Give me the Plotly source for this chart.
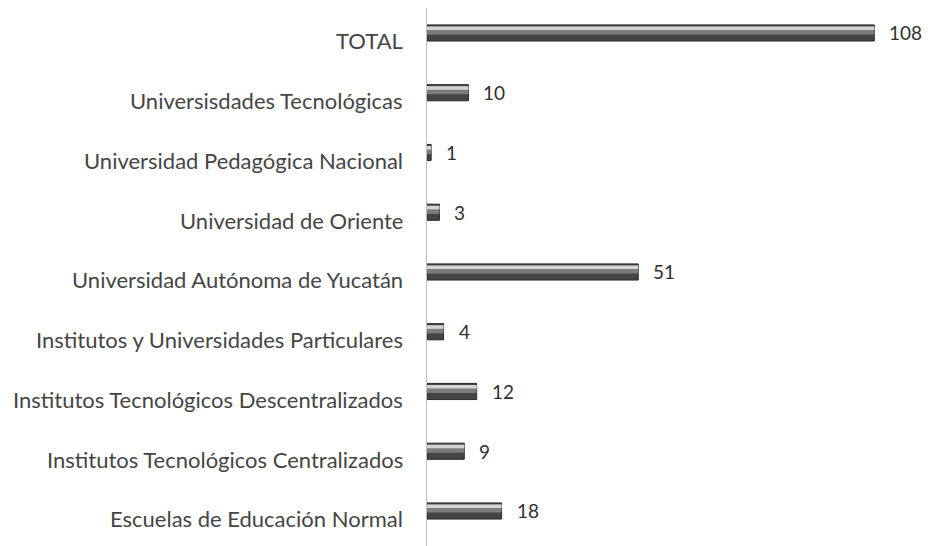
import plotly.graph_objects as go

categories = [
    "Escuelas de Educación Normal",
    "Institutos Tecnológicos Centralizados",
    "Institutos Tecnológicos Descentralizados",
    "Institutos y Universidades Particulares",
    "Universidad Autónoma de Yucatán",
    "Universidad de Oriente",
    "Universidad Pedagógica Nacional",
    "Universisdades Tecnológicas",
    "TOTAL",
]
values = [18, 9, 12, 4, 51, 3, 1, 10, 108]

FONT = "Lato"
W = 0.27

fig = go.Figure()
# base (dark) bar
fig.add_trace(go.Bar(
    y=categories, x=values, orientation="h", width=W, offset=-W / 2,
    marker=dict(color="#444444", line=dict(color="#2a2a2a", width=1)),
    hoverinfo="skip",
))
# mid tone band
fig.add_trace(go.Bar(
    y=categories, x=values, orientation="h", width=W * 0.5, offset=W / 2 - W * 0.6,
    marker=dict(color="#7c7c7c", line=dict(width=0)), hoverinfo="skip",
))
# light highlight band at top
fig.add_trace(go.Bar(
    y=categories, x=values, orientation="h", width=W * 0.22, offset=W / 2 - W * 0.32,
    marker=dict(color="#d4d4d4", line=dict(width=0)), hoverinfo="skip",
))

for c, v in zip(categories, values):
    fig.add_annotation(
        x=0, xref="paper", y=c, yref="y", text=c, showarrow=False,
        xanchor="right", xshift=-22, yshift=-8,
        font=dict(family=FONT, size=22, color="#454545"),
    )
    fig.add_annotation(
        x=v, xref="x", y=c, yref="y", text=str(v), showarrow=False,
        xanchor="left", xshift=13, yshift=0,
        font=dict(family=FONT, size=19, color="#303030"),
    )

fig.update_layout(
    width=922, height=538,
    margin=dict(l=419, r=6, t=0, b=0, autoexpand=False),
    barmode="overlay",
    showlegend=False,
    plot_bgcolor="white", paper_bgcolor="white",
    xaxis=dict(range=[0, 120], visible=False, showgrid=False, zeroline=False),
    yaxis=dict(showticklabels=False, ticks="", showgrid=False, zeroline=False,
               showline=True, linecolor="#bfbfbf", linewidth=1,
               categoryorder="array", categoryarray=categories,
               range=[-0.586, 8.418]),
)

fig.write_html("out.html")
